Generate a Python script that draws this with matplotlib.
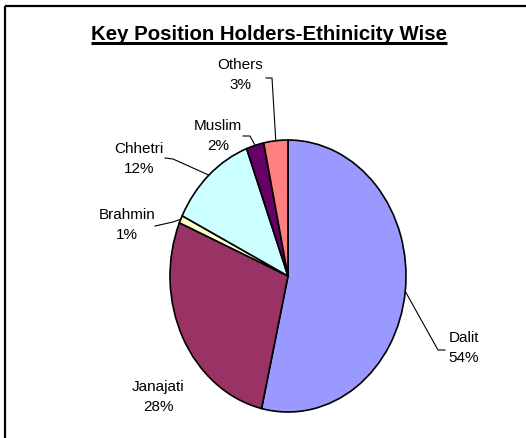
import numpy as np
import matplotlib
matplotlib.use("Agg")
import matplotlib.pyplot as plt

# ---- data ----
categories = ["Dalit", "Janajati", "Brahmin", "Chhetri", "Muslim", "Others"]
shares = [53.6, 27.8, 0.9, 12.0, 2.4, 3.3]
colors = ["#9999FF", "#993366", "#FFFFCC", "#CCFFFF", "#660066", "#FF8080"]
title = "Key Position Holders-Ethinicity Wise"

W, H = 526, 439
fig = plt.figure(figsize=(W / 100, H / 100), dpi=100)
fig.patch.set_facecolor("white")

# pie geometry (pixels)
cx, cy, rx, ry = 288, 277, 118, 136
ax = fig.add_axes([(cx - rx) / W, (H - cy - ry) / H, 2 * rx / W, 2 * ry / H])
wedges, _ = ax.pie(shares, colors=colors, startangle=90, counterclock=False,
                   wedgeprops=dict(edgecolor="black", linewidth=1.2))
ax.set_aspect("auto")
ax.set_xlim(-1, 1)
ax.set_ylim(-1, 1)
ax.axis("off")

# overlay in pixel coordinates (y down)
ov = fig.add_axes([0, 0, 1, 1], zorder=5)
ov.set_xlim(0, W)
ov.set_ylim(H, 0)
ov.axis("off")
ov.patch.set_alpha(0)

# chart frame (left & top edges visible)
ov.plot([5, 5], [7, H], color="black", lw=1.6, solid_capstyle="butt")
ov.plot([5, W], [7, 7], color="black", lw=1.6, solid_capstyle="butt")

t = ov.text(269, 40, title, ha="center", va="baseline", fontsize=14.7,
            fontweight="bold", family=["Liberation Sans", "DejaVu Sans"])
fig.canvas.draw()
bb = t.get_window_extent()
ov.plot([bb.x0, bb.x1], [44, 44], color="black", lw=2.2, solid_capstyle="butt")

label_font = ["Liberation Sans", "DejaVu Sans"]

# label placements (pixel positions of label centres) and leader elbows
label_pos = {
    "Dalit": (464, 348),
    "Janajati": (158, 397),
    "Brahmin": (127, 225),
    "Chhetri": (139, 159),
    "Muslim": (218, 136),
    "Others": (240, 75),
}
elbows = {
    "Dalit": [(445, 351), (438, 351)],
    "Brahmin": [(155, 227), (173, 223)],
    "Chhetri": [(165, 159), (173, 160)],
    "Muslim": [(243, 137), (250, 137)],
    "Others": [(266, 79), (272, 79)],
}

total = sum(shares)
cum = 0.0
for name, val in zip(categories, shares):
    mid = (cum + val / 2) / total * 2 * np.pi
    cum += val
    ex = cx + rx * np.sin(mid)
    ey = cy - ry * np.cos(mid)
    lx, ly = label_pos[name]
    pct = round(val / total * 100)
    ov.text(lx, ly, f"{name}\n{pct}%", ha="center", va="center",
            fontsize=11, family=label_font, linespacing=1.6)
    if name in elbows:
        pts = elbows[name] + [(ex, ey)]
        ov.plot([p[0] for p in pts], [p[1] for p in pts], color="black", lw=0.8)

fig.savefig("out.png", dpi=100, facecolor="white")
